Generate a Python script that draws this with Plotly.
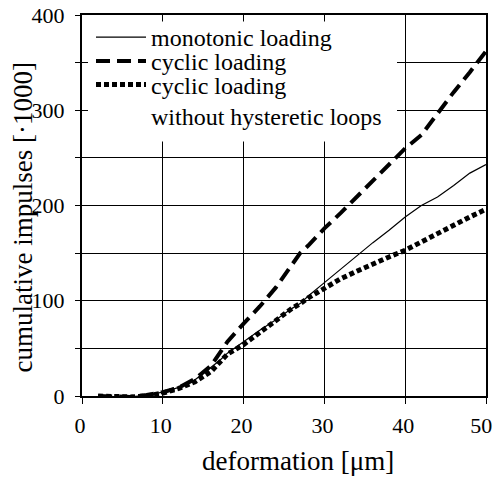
import plotly.graph_objects as go

# deformation [µm]
deformation = [2, 4, 6, 8, 10, 12, 14, 16, 17, 18, 20, 22, 24, 26, 27, 28,
               30, 32, 34, 36, 38, 40, 42, 44, 46, 48, 50]
# cumulative impulses [x1000]
monotonic = [0, -1, -1, 1, 4, 9, 17, 30, 37, 45, 57, 69, 80, 92, 97, 105,
             119, 133, 148, 161, 174, 188, 200, 209, 221, 234, 243]
cyclic = [0, -1, -1, 1, 4, 9, 18, 32, 44, 57, 76, 94, 114, 139, 150, 158,
          176, 192, 209, 226, 243, 260, 274, 297, 319, 340, 362]
cyclic_no_loops = [0, -1, -1, 0, 3, 8, 15, 26, 35, 44, 54, 67, 79, 92, 97, 103,
                   113, 123, 131, 139, 146, 153, 162, 171, 180, 188, 196]

names = ["monotonic loading", "cyclic loading",
         "cyclic loading<br>without hysteretic loops"]

x_ticks = [0, 10, 20, 30, 40, 50]
x_ticktext = ["0", "10", "20", "30", "40", "50\u00a0"]
y_ticks = [0, 50, 100, 150, 200, 250, 300, 350, 400]
y_ticktext = ["0", "", "100", "", "200", "", "300", "", "400"]

FONT = "Liberation Serif, Times New Roman, serif"

fig = go.Figure()
fig.add_trace(go.Scatter(x=deformation, y=monotonic, mode="lines", name=names[0],
                         line=dict(color="black", width=1.2), legend="legend"))
fig.add_trace(go.Scatter(x=deformation, y=cyclic, mode="lines", name=names[1],
                         line=dict(color="black", width=4, dash="14px,7px"),
                         legend="legend2"))
fig.add_trace(go.Scatter(x=deformation, y=cyclic_no_loops, mode="lines", name=names[2],
                         line=dict(color="black", width=5, dash="5px,3px"),
                         legend="legend3"))

L, R, T, B = 82, 7, 15, 81
W, H = 493, 477
ph = H - T - B
pw = W - L - R

def ly(px):
    return (H - B - px) / ph

def lx(px):
    return (px - L) / pw

leg_common = dict(xanchor="left", yanchor="top", x=lx(91),
                  bgcolor="rgba(0,0,0,0)", borderwidth=0, itemwidth=50,
                  font=dict(family=FONT, size=24, color="black"), valign="top",
                  tracegroupgap=0)

OFF = 29
fig.update_layout(
    width=W, height=H,
    margin=dict(l=L, r=R, t=T, b=B, autoexpand=False),
    paper_bgcolor="white", plot_bgcolor="white",
    font=dict(family=FONT, size=22, color="black"),
    showlegend=True,
    legend=dict(y=ly(44 - OFF), **leg_common),
    legend2=dict(y=ly(68 - OFF), **leg_common),
    legend3=dict(y=ly(91.5 - OFF), **leg_common),
    xaxis=dict(range=[0, 50], tickvals=x_ticks, ticktext=x_ticktext,
               ticks="outside", ticklen=6,
               tickcolor="black", tickwidth=1, showgrid=True, gridcolor="black",
               gridwidth=1, showline=True, linecolor="black", linewidth=2,
               mirror=True, zeroline=False, ticklabeloverflow="allow",
               ticklabelstandoff=3, ticklabelshift=-2, automargin=False,
               tickfont=dict(family=FONT, size=22, color="black")),
    yaxis=dict(range=[0, 400], tickvals=y_ticks, ticktext=y_ticktext,
               ticks="outside", ticklen=5, tickcolor="black", tickwidth=1,
               ticklabelstandoff=6, automargin=False,
               showgrid=True, gridcolor="black", gridwidth=1, showline=True,
               linecolor="black", linewidth=2, mirror=True, zeroline=False,
               tickfont=dict(family=FONT, size=22, color="black")),
    shapes=[dict(type="rect", xref="paper", yref="paper",
                 x0=lx(88), x1=lx(397), y0=ly(141.5), y1=ly(21.5),
                 fillcolor="white", line=dict(width=0), layer="above")],
    annotations=[
        dict(text="deformation [\u03bcm]", xref="paper", yref="paper",
             x=lx(297.5), y=ly(461), xanchor="center",
             yanchor="middle", showarrow=False,
             font=dict(family=FONT, size=27, color="black")),
        dict(text="cumulative impulses [\u00b71000]", xref="paper", yref="paper",
             x=lx(23), y=ly(217.5), xanchor="center",
             yanchor="middle", textangle=-90, showarrow=False,
             font=dict(family=FONT, size=27, color="black")),
    ],
)

fig.write_html("out.html")
